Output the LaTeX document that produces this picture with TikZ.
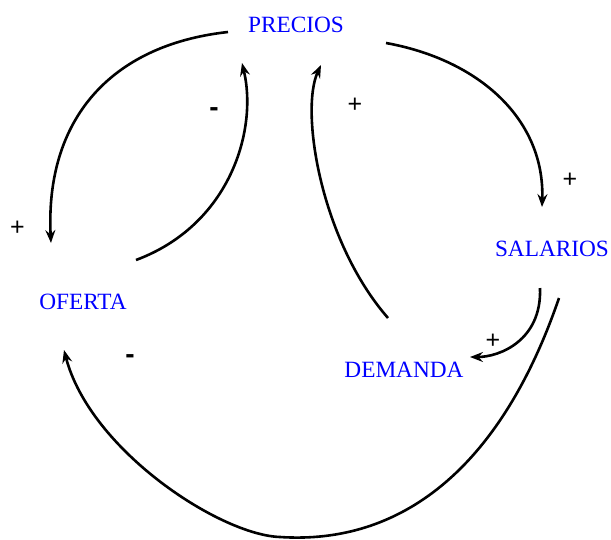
\documentclass[tikz,border=0pt]{standalone}
\usepackage{fontspec}
\setmainfont{Liberation Serif}
\newfontfamily\signfont{Liberation Sans}
\usetikzlibrary{arrows.meta}
\definecolor{nodeblue}{RGB}{0,0,255}
\begin{document}
\begin{tikzpicture}[x=1pt,y=-1pt,
  var/.style={text=nodeblue,font=\fontsize{23.3}{26}\selectfont,inner sep=0pt},
  sign/.style={font=\signfont\fontsize{25}{26}\selectfont,inner sep=0pt},
  minus/.style={font=\signfont\bfseries\fontsize{28}{26}\selectfont,inner sep=0pt},
  link/.style={line width=2.6pt,-{Stealth[length=13pt,width=10pt,inset=4.5pt]}}]
\useasboundingbox (0,0) rectangle (611,539);
\node[var] (precios) at (296,25) {PRECIOS};
\node[var] (salarios) at (552,249) {SALARIOS};
\node[var] (oferta) at (83,302) {OFERTA};
\node[var] (demanda) at (404,370) {DEMANDA};
% endpoints
\coordinate (a1s) at (228,32);  \coordinate (a1e) at (51,243);
\coordinate (a2s) at (136,260); \coordinate (a2e) at (242,63);
\coordinate (a3s) at (388,318); \coordinate (a3e) at (321,65);
\coordinate (a4s) at (386,43);  \coordinate (a4e) at (542,207);
\coordinate (a5s) at (540,288); \coordinate (a5e) at (470,357);
\coordinate (a6s) at (559,298); \coordinate (a6m) at (280,537); \coordinate (a6e) at (64,350);
\draw[link] (a1s) .. controls (110,45) and (45,120) .. (a1e);
\draw[link] (a2s) .. controls (230,225) and (258,130) .. (a2e);
\draw[link] (a3s) .. controls (320,240) and (300,110) .. (a3e);
\draw[link] (a4s) .. controls (480,60) and (545,120) .. (a4e);
\draw[link] (a5s) .. controls (542,340) and (500,357) .. (a5e);
\draw[link] (a6s) .. controls (500,470) and (400,545) .. (a6m) .. controls (220,535) and (90,450) .. (a6e);
\node[sign] (s1) at (17.5,228) {+};
\node[minus] (s2) at (214,112) {-};
\node[sign] (s3) at (355,105) {+};
\node[sign] (s4) at (570,180) {+};
\node[sign] (s5) at (493,341) {+};
\node[minus] (s6) at (130,359) {-};
\end{tikzpicture}
\end{document}
